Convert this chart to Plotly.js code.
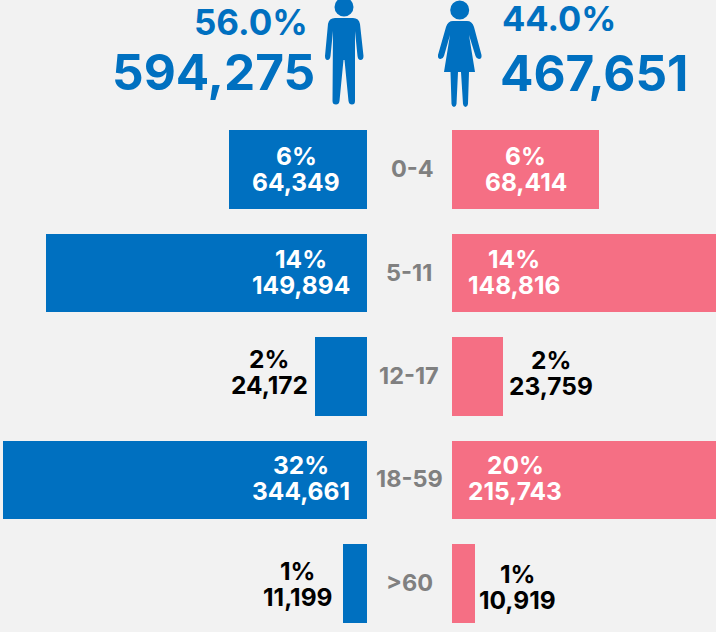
<!DOCTYPE html>
<html><head><meta charset="utf-8">
<script src="https://cdn.plot.ly/plotly-3.0.1.min.js"></script>
<style>html,body{margin:0;padding:0;background:#f2f2f2;overflow:hidden}</style>
</head><body><div id="chart" style="width:716px;height:632px"></div>
<script>
const categories = ['0-4','5-11','12-17','18-59','>60'];
const maleCounts = [64349,149894,24172,344661,11199];
const femaleCounts = [68414,148816,23759,215743,10919];
const malePct = ['6%','14%','2%','32%','1%'];
const femalePct = ['6%','14%','2%','20%','1%'];
const totalMale = 594275, totalFemale = 467651;
const shareMale = '56.0%', shareFemale = '44.0%';

const W = 716, H = 632;
const BLUE = '#0070c0', PINK = '#f56f84', GREY = '#808080', BG = '#f2f2f2';
const FONT = 'Inter, Lato, sans-serif';
const fmt = n => n.toLocaleString('en-US');
const UNITS_PER_PX = 467;

// label placement (pixel centres of each label column, vertical nudges per row)
const maleLabelX = [296,301,269,301,297];
const femaleLabelX = [525.5,514,550.5,515,517.5];
const maleLabelColor = ['#fff','#fff','#000','#fff','#000'];
const femaleLabelColor = ['#fff','#fff','#000','#fff','#000'];
const maleNudge = [0,0,-3,-1,2];
const femaleNudge = [0,0,-2,-1,4.5];
const catLabelX = [412,409,409,409,409];

const px = x => x / W, py = y => 1 - y / H;
function path(cmds){
  return cmds.map(c => c[0] + c.slice(1).map((v,i) => (i%2===0 ? px(v) : py(v)).toFixed(5)).join(' ')).join(' ');
}
const maleBody = path([['M',335,18],['L',353,18],['Q',359,18,360,24],['L',363.5,56],['Q',363.5,60,360.5,60],['Q',358,60,357.5,56],['L',355,31],
  ['L',355,101],['Q',355,104.5,352,104.5],['Q',349,104.5,348.5,101],['L',344.5,60],['L',343.5,60],['L',339.5,101],['Q',339,104.5,336,104.5],['Q',332.5,104.5,332.5,101],
  ['L',333,31],['L',330.5,56],['Q',330,60,327.5,60],['Q',325,60,325,56],['L',328,24],['Q',329,18,335,18],['Z']]);
const femaleBody = path([['M',453,21],['L',467,21],['Q',472,21,474,27],['L',481.5,55],['Q',482,59,479,59],['Q',476.5,59,475.5,56],['L',469,35],
  ['L',475,72],['L',469,72],['L',468,104],['Q',467.5,107,465.5,107],['Q',463.5,107,463,104],['L',461,72],['L',458,72],['L',456.5,104],['Q',456,107,454,107],['Q',452,107,451.5,104],['L',450.5,72],['L',444,72],
  ['L',450,35],['L',444,56],['Q',443,59,440.5,59],['Q',437.5,59,438,55],['L',446,27],['Q',448,21,453,21],['Z']]);
const head = (cx,cy,r) => ({type:'circle',xref:'paper',yref:'paper',x0:px(cx-r),x1:px(cx+r),y0:py(cy+r),y1:py(cy-r),fillcolor:BLUE,line:{width:0},layer:'above'});
const shapes = [
  {type:'path',xref:'paper',yref:'paper',path:maleBody,fillcolor:BLUE,line:{width:0}},
  {type:'path',xref:'paper',yref:'paper',path:femaleBody,fillcolor:BLUE,line:{width:0}},
  head(344,7,9.5), head(459.7,10,9.5)
];

const ann = [];
function txt(x,yv,shift,text,size,color,anchor){
  ann.push({xref:'paper',yref:'y',x:px(x),y:yv,yshift:shift,text:text,showarrow:false,xanchor:anchor||'center',yanchor:'middle',
    font:{family:FONT,size:size,color:color,weight:700}});
}
categories.forEach((c,i)=>{
  txt(maleLabelX[i],i,14-maleNudge[i],malePct[i],24.5,maleLabelColor[i]);
  txt(maleLabelX[i],i,-12-maleNudge[i],fmt(maleCounts[i]),24.5,maleLabelColor[i]);
  txt(femaleLabelX[i],i,14-femaleNudge[i],femalePct[i],24.5,femaleLabelColor[i]);
  txt(femaleLabelX[i],i,-12-femaleNudge[i],fmt(femaleCounts[i]),24.5,femaleLabelColor[i]);
  txt(catLabelX[i],i,1,c,23.5,GREY);
});
function head2(x,y,text,size,anchor){
  ann.push({xref:'paper',yref:'paper',x:px(x),y:py(y),text:text,showarrow:false,xanchor:anchor,yanchor:'middle',
    font:{family:FONT,size:size,color:BLUE,weight:700}});
}
head2(310,22,shareMale,35,'right');
head2(317,72,fmt(totalMale),49.5,'right');
head2(500,18,shareFemale,34.5,'left');
head2(498,73,fmt(totalFemale),49.5,'left');

const data = [
  {type:'bar',orientation:'h',y:categories.map((c,i)=>i),x:maleCounts,xaxis:'x',yaxis:'y',width:0.763,marker:{color:BLUE,line:{width:0}},hoverinfo:'skip'},
  {type:'bar',orientation:'h',y:categories.map((c,i)=>i),x:femaleCounts,xaxis:'x2',yaxis:'y',width:0.763,marker:{color:PINK,line:{width:0}},hoverinfo:'skip'}
];
const layout = {
  width:W,height:H,margin:{l:0,r:0,t:0,b:0,pad:0},paper_bgcolor:BG,plot_bgcolor:BG,showlegend:false,bargap:0,
  xaxis:{domain:[px(3),px(367)],range:[364*UNITS_PER_PX,0],visible:false,fixedrange:true,anchor:'y'},
  xaxis2:{domain:[px(452),1],range:[0,264*UNITS_PER_PX],visible:false,fixedrange:true,anchor:'y'},
  yaxis:{domain:[0,1],range:[4.469,-1.638],visible:false,fixedrange:true},
  shapes:shapes,annotations:ann
};
Plotly.newPlot('chart',data,layout,{displayModeBar:false,staticPlot:true});
</script></body></html>
